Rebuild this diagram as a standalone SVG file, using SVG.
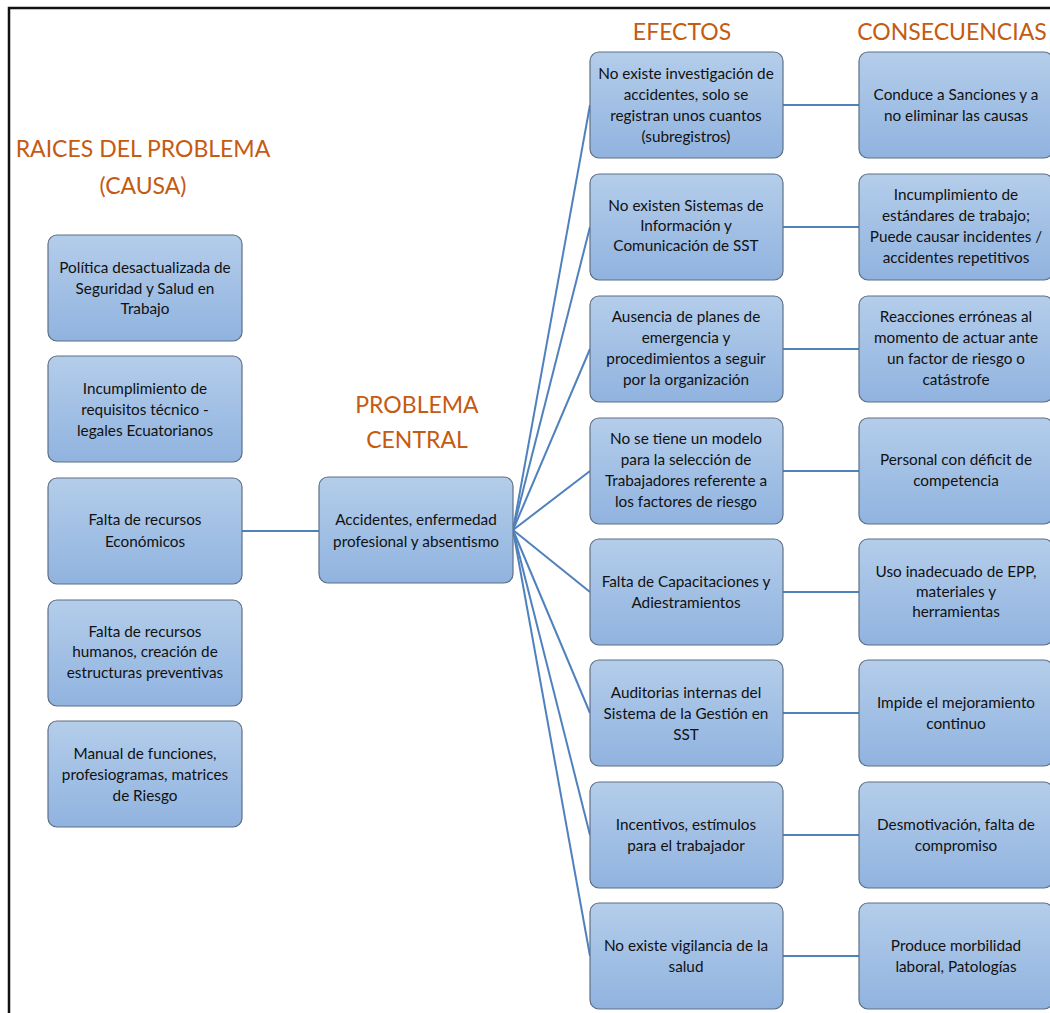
<svg xmlns="http://www.w3.org/2000/svg" width="1050" height="1013" viewBox="0 0 1050 1013">
<defs>
<linearGradient id="g" x1="0" y1="0" x2="0" y2="1">
<stop offset="0" stop-color="#b4cdea"/>
<stop offset="1" stop-color="#90b3df"/>
</linearGradient>
<style>
.box{fill:url(#g);stroke:#5f6f86;stroke-width:1.2}
.t{font-family:Lato,"Liberation Sans",sans-serif;font-size:15.3px;fill:#111;text-anchor:middle}
.h{font-family:Lato,"Open Sans",sans-serif;font-size:23px;fill:#c55a11;text-anchor:middle}
.c{stroke:#4f81bd;stroke-width:2;fill:none}
</style>
</defs>
<rect width="1050" height="1013" fill="#fff"/>
<path d="M9,1013 V8 H1050" fill="none" stroke="#111" stroke-width="2.5"/>

<text class="h" x="143" y="157">RAICES DEL PROBLEMA</text>
<text class="h" x="143" y="194">(CAUSA)</text>
<text class="h" x="417" y="413">PROBLEMA</text>
<text class="h" x="417" y="448">CENTRAL</text>
<text class="h" x="682" y="40">EFECTOS</text>
<text class="h" x="952" y="40">CONSECUENCIAS</text>

<g id="connectors">
<line class="c" x1="242" y1="531" x2="319" y2="531"/>
<line class="c" x1="513" y1="530" x2="590" y2="105"/>
<line class="c" x1="513" y1="530" x2="590" y2="227"/>
<line class="c" x1="513" y1="530" x2="590" y2="349"/>
<line class="c" x1="513" y1="530" x2="590" y2="471"/>
<line class="c" x1="513" y1="530" x2="590" y2="592"/>
<line class="c" x1="513" y1="530" x2="590" y2="713"/>
<line class="c" x1="513" y1="530" x2="590" y2="835"/>
<line class="c" x1="513" y1="530" x2="590" y2="956"/>
<line class="c" x1="783" y1="105" x2="859" y2="105"/>
<line class="c" x1="783" y1="227" x2="859" y2="227"/>
<line class="c" x1="783" y1="349" x2="859" y2="349"/>
<line class="c" x1="783" y1="471" x2="859" y2="471"/>
<line class="c" x1="783" y1="592" x2="859" y2="592"/>
<line class="c" x1="783" y1="713" x2="859" y2="713"/>
<line class="c" x1="783" y1="835" x2="859" y2="835"/>
<line class="c" x1="783" y1="956" x2="859" y2="956"/>
</g>

<g id="cause1"><rect class="box" x="48" y="235" width="194" height="106" rx="9"/>
<text class="t" x="145" y="273">Política desactualizada de</text><text class="t" x="145" y="294">Seguridad y Salud en</text><text class="t" x="145" y="314">Trabajo</text></g>
<g id="cause2"><rect class="box" x="48" y="356" width="194" height="106" rx="9"/>
<text class="t" x="145" y="394">Incumplimiento de</text><text class="t" x="145" y="415">requisitos técnico -</text><text class="t" x="145" y="436">legales Ecuatorianos</text></g>
<g id="cause3"><rect class="box" x="48" y="478" width="194" height="106" rx="9"/>
<text class="t" x="145" y="525">Falta de recursos</text><text class="t" x="145" y="547">Económicos</text></g>
<g id="cause4"><rect class="box" x="48" y="600" width="194" height="106" rx="9"/>
<text class="t" x="145" y="637">Falta de recursos</text><text class="t" x="145" y="657">humanos, creación de</text><text class="t" x="145" y="678">estructuras preventivas</text></g>
<g id="cause5"><rect class="box" x="48" y="721" width="194" height="106" rx="9"/>
<text class="t" x="145" y="759">Manual de funciones,</text><text class="t" x="145" y="780">profesiogramas, matrices</text><text class="t" x="145" y="801">de Riesgo</text></g>

<g id="central"><rect class="box" x="319" y="477" width="194" height="106" rx="9"/>
<text class="t" x="416" y="525">Accidentes, enfermedad</text><text class="t" x="416" y="547">profesional y absentismo</text></g>

<g id="effect1"><rect class="box" x="590" y="52" width="193" height="106" rx="9"/>
<text class="t" x="686" y="79">No existe investigación de</text><text class="t" x="686" y="100">accidentes, solo se</text><text class="t" x="686" y="121">registran unos cuantos</text><text class="t" x="686" y="142">(subregistros)</text></g>
<g id="effect2"><rect class="box" x="590" y="174" width="193" height="106" rx="9"/>
<text class="t" x="686" y="211">No existen Sistemas de</text><text class="t" x="686" y="231">Información y</text><text class="t" x="686" y="251">Comunicación de SST</text></g>
<g id="effect3"><rect class="box" x="590" y="296" width="193" height="106" rx="9"/>
<text class="t" x="686" y="322">Ausencia de planes de</text><text class="t" x="686" y="343">emergencia y</text><text class="t" x="686" y="364">procedimientos a seguir</text><text class="t" x="686" y="385">por la organización</text></g>
<g id="effect4"><rect class="box" x="590" y="418" width="193" height="106" rx="9"/>
<text class="t" x="686" y="444">No se tiene un modelo</text><text class="t" x="686" y="465">para la selección de</text><text class="t" x="686" y="486">Trabajadores referente a</text><text class="t" x="686" y="507">los factores de riesgo</text></g>
<g id="effect5"><rect class="box" x="590" y="539" width="193" height="106" rx="9"/>
<text class="t" x="686" y="587">Falta de Capacitaciones y</text><text class="t" x="686" y="608">Adiestramientos</text></g>
<g id="effect6"><rect class="box" x="590" y="660" width="193" height="106" rx="9"/>
<text class="t" x="686" y="698">Auditorias internas del</text><text class="t" x="686" y="719">Sistema de la Gestión en</text><text class="t" x="686" y="740">SST</text></g>
<g id="effect7"><rect class="box" x="590" y="782" width="193" height="106" rx="9"/>
<text class="t" x="686" y="830">Incentivos, estímulos</text><text class="t" x="686" y="851">para el trabajador</text></g>
<g id="effect8"><rect class="box" x="590" y="903" width="193" height="106" rx="9"/>
<text class="t" x="686" y="951">No existe vigilancia de la</text><text class="t" x="686" y="972">salud</text></g>

<g id="cons1"><rect class="box" x="859" y="52" width="194" height="106" rx="9"/>
<text class="t" x="956" y="100">Conduce a Sanciones y a</text><text class="t" x="956" y="121">no eliminar las causas</text></g>
<g id="cons2"><rect class="box" x="859" y="174" width="194" height="106" rx="9"/>
<text class="t" x="956" y="200">Incumplimiento de</text><text class="t" x="956" y="221">estándares de trabajo;</text><text class="t" x="956" y="242">Puede causar incidentes /</text><text class="t" x="956" y="263">accidentes repetitivos</text></g>
<g id="cons3"><rect class="box" x="859" y="296" width="194" height="106" rx="9"/>
<text class="t" x="956" y="322">Reacciones erróneas al</text><text class="t" x="956" y="343">momento de actuar ante</text><text class="t" x="956" y="364">un factor de riesgo o</text><text class="t" x="956" y="385">catástrofe</text></g>
<g id="cons4"><rect class="box" x="859" y="418" width="194" height="106" rx="9"/>
<text class="t" x="956" y="465">Personal con déficit de</text><text class="t" x="956" y="486">competencia</text></g>
<g id="cons5"><rect class="box" x="859" y="539" width="194" height="106" rx="9"/>
<text class="t" x="956" y="577">Uso inadecuado de EPP,</text><text class="t" x="956" y="597">materiales y</text><text class="t" x="956" y="617">herramientas</text></g>
<g id="cons6"><rect class="box" x="859" y="660" width="194" height="106" rx="9"/>
<text class="t" x="956" y="708">Impide el mejoramiento</text><text class="t" x="956" y="729">continuo</text></g>
<g id="cons7"><rect class="box" x="859" y="782" width="194" height="106" rx="9"/>
<text class="t" x="956" y="830">Desmotivación, falta de</text><text class="t" x="956" y="851">compromiso</text></g>
<g id="cons8"><rect class="box" x="859" y="903" width="194" height="106" rx="9"/>
<text class="t" x="956" y="951">Produce morbilidad</text><text class="t" x="956" y="972">laboral, Patologías</text></g>
</svg>
